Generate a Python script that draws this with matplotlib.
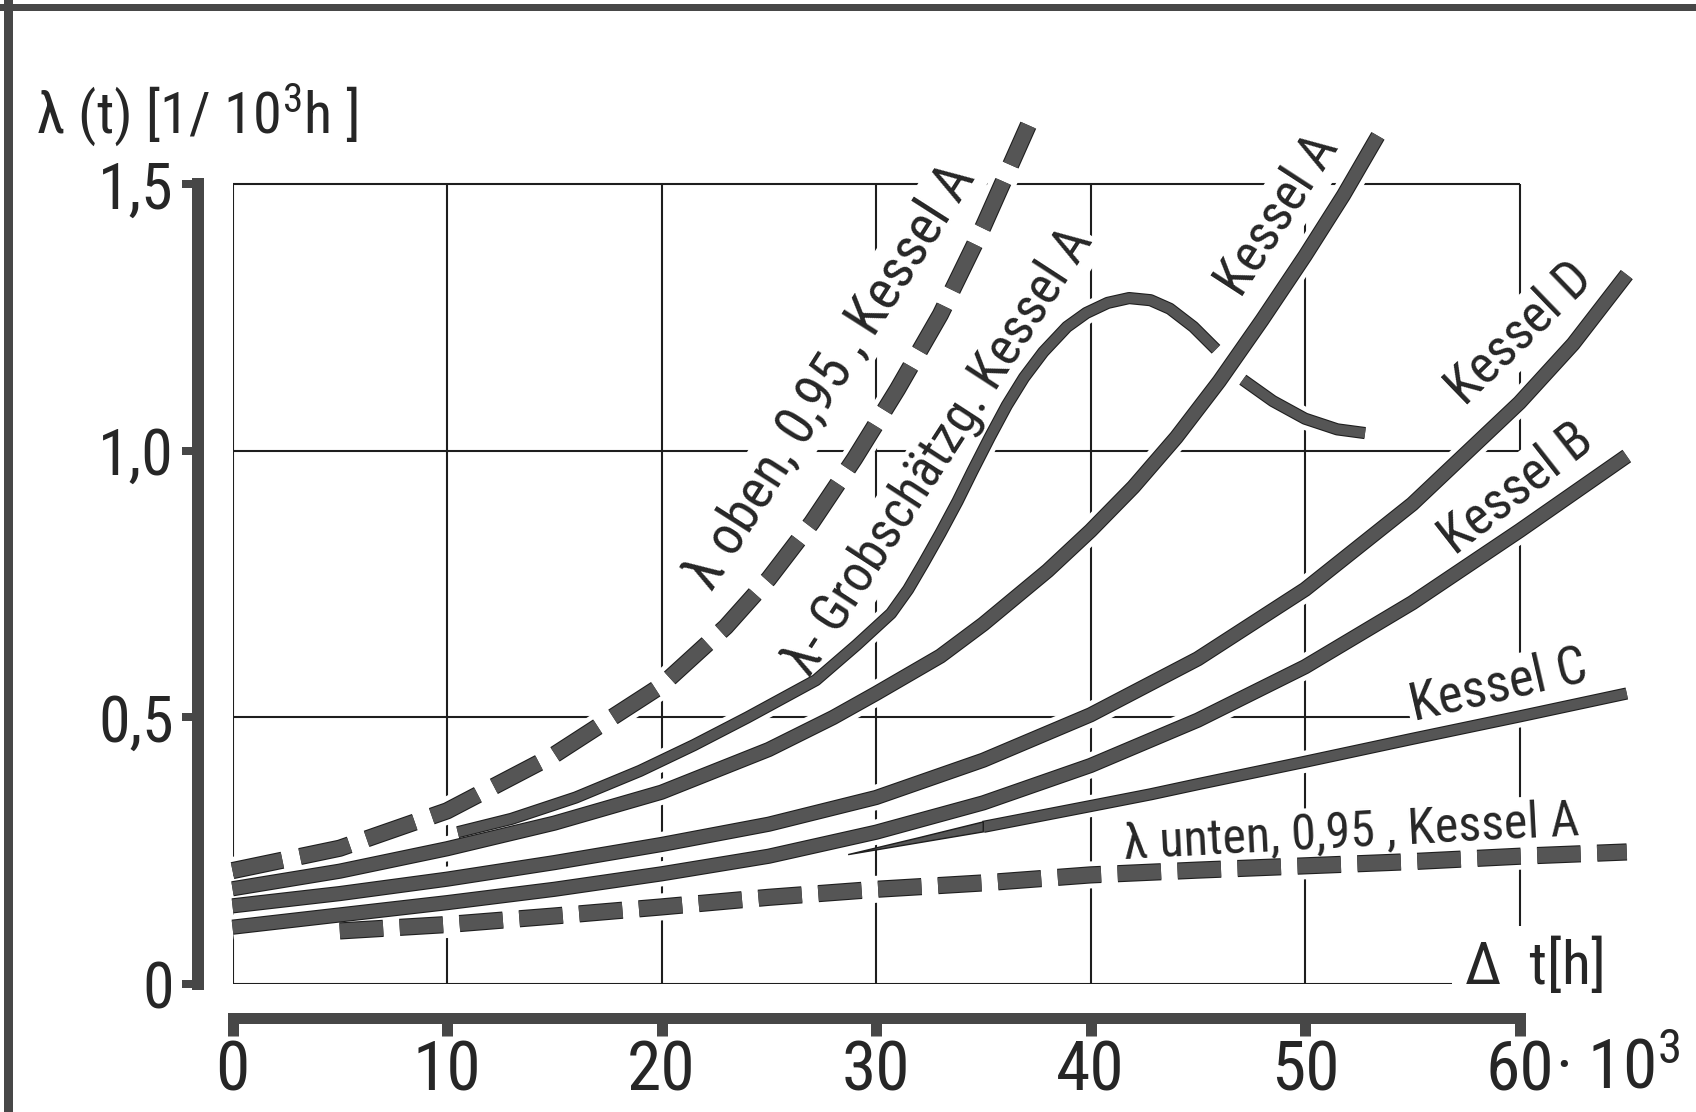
import matplotlib
matplotlib.use("Agg")
import matplotlib.pyplot as plt
import matplotlib.patheffects as pe
from matplotlib import font_manager
from matplotlib.lines import Line2D
from matplotlib.transforms import blended_transform_factory

# lambda(t) [1/10^3 h] over delta t [10^3 h]
oben_x = [0, 5, 10, 15, 20, 23, 25, 27, 29, 31, 33, 35, 37.1]
oben_y = [0.213, 0.255, 0.325, 0.43, 0.56, 0.67, 0.76, 0.865, 0.985, 1.115, 1.255, 1.42, 1.61]

grob_x1 = [10.5, 13, 16, 19, 21.5, 24, 27.2, 29.1, 30.7, 31.5, 32.2, 33, 33.8, 34.5,
           35.3, 36.1, 36.9, 37.8, 38.9, 39.8, 40.8, 41.8, 42.8, 43.7, 44.8, 45.85]
grob_y1 = [0.285, 0.31, 0.35, 0.40, 0.448, 0.50, 0.57, 0.636, 0.695, 0.74, 0.788,
           0.845, 0.905, 0.962, 1.025, 1.085, 1.137, 1.185, 1.232, 1.258, 1.277,
           1.286, 1.282, 1.266, 1.232, 1.19]
grob_x2 = [47.1, 48.5, 50, 51.5, 52.8]
grob_y2 = [1.133, 1.093, 1.06, 1.04, 1.033]

kessel_a_x = [0, 5, 10, 15, 20, 25, 28, 30, 33, 35, 38, 40, 42, 44, 46, 48, 50, 51.8, 53.4]
kessel_a_y = [0.179, 0.212, 0.254, 0.302, 0.36, 0.44, 0.50, 0.545, 0.615, 0.675,
              0.775, 0.85, 0.932, 1.025, 1.13, 1.245, 1.365, 1.479, 1.59]

kessel_d_x = [0, 5, 10, 15, 20, 25, 30, 35, 40, 45, 50, 55, 60, 62.5, 65]
kessel_d_y = [0.147, 0.17, 0.197, 0.228, 0.262, 0.30, 0.35, 0.42, 0.505, 0.61,
              0.74, 0.9, 1.09, 1.2, 1.33]

kessel_b_x = [0, 5, 10, 15, 20, 25, 30, 35, 40, 45, 50, 55, 60, 65]
kessel_b_y = [0.107, 0.13, 0.153, 0.178, 0.207, 0.24, 0.285, 0.34, 0.41, 0.495,
              0.595, 0.715, 0.85, 0.99]

kessel_c_x = [28.7, 32, 35, 40, 42.8, 45, 50, 55, 60, 65]
kessel_c_y = [0.243, 0.27, 0.295, 0.334, 0.356, 0.375, 0.417, 0.46, 0.502, 0.545]

unten_x = [5, 10, 15, 20, 25, 30, 35, 40, 45, 50, 55, 60, 65]
unten_y = [0.10, 0.112, 0.128, 0.145, 0.163, 0.178, 0.19, 0.205, 0.214, 0.222,
           0.23, 0.24, 0.248]

x_ticks = [0, 10, 20, 30, 40, 50, 60]
x_labels = ["0", "10", "20", "30", "40", "50", "60"]
y_ticks = [0, 0.5, 1.0, 1.5]
y_labels = ["0", "0,5", "1,0", "1,5"]

# pick a narrow face if there is one
names = {f.name for f in font_manager.fontManager.ttflist}
FONT = "DejaVu Sans"
for cand in ["Liberation Sans Narrow", "Roboto Condensed", "Open Sans Condensed"]:
    if cand in names:
        FONT = cand
        break
plt.rcParams["font.family"] = [FONT, "DejaVu Sans"]
plt.rcParams["mathtext.default"] = "regular"

PX = 0.72          # points per pixel at dpi 100
INK = "#1e1e1e"
FILL = "#555555"
AXC = "#474747"
TXT = "#262626"

fig = plt.figure(figsize=(16.96, 11.12), dpi=100)
ax = fig.add_axes([0.13709, 0.11484, 0.83474, 0.79178])
ax.set_xlim(0, 66)
ax.set_ylim(0, 1.65)

# thin grid
ax.vlines(x_ticks, 0, 1.5, color=INK, lw=1.5, zorder=1)
ax.hlines(y_ticks, 0, 60, color=INK, lw=1.5, zorder=1)


def curve(x, y, lw, dashes=None):
    ax.plot(x, y, color="white", lw=lw + 12 * PX, solid_capstyle="butt",
            solid_joinstyle="round", zorder=2, clip_on=False)
    ln, = ax.plot(x, y, color=FILL, lw=lw, solid_capstyle="butt",
                  dash_capstyle="butt", solid_joinstyle="round", zorder=4,
                  clip_on=False)
    if dashes:
        ln.set_dashes(dashes)
    ln.set_path_effects([pe.Stroke(linewidth=lw + 2.2 * PX, foreground=INK),
                         pe.Normal()])
    return ln


thick = 13 * PX
thin = 10 * PX
dash_lw = 15 * PX

curve(oben_x, oben_y, dash_lw, dashes=(3.4, 1.2))
curve(unten_x, unten_y, dash_lw, dashes=(2.9, 1.1))
curve(kessel_b_x, kessel_b_y, thick)
curve(kessel_d_x, kessel_d_y, thick)
curve(kessel_a_x, kessel_a_y, thick)
curve(grob_x1, grob_y1, thin)
curve(grob_x2, grob_y2, thin)

# Kessel C leaves Kessel B as a thin wedge, full width from the third point on
curve(kessel_c_x[2:], kessel_c_y[2:], thin)
half = 5 / 533.6
grow = [0.0, 0.5, 1.0]
wx = kessel_c_x[:3] + kessel_c_x[:3][::-1]
wy = ([v + g * half for v, g in zip(kessel_c_y[:3], grow)]
      + [v - g * half for v, g in zip(kessel_c_y[:3], grow)][::-1])
ax.fill(wx, wy, facecolor=FILL, edgecolor=INK, lw=1.0, zorder=4)

# labels along the curves
box = dict(facecolor="white", edgecolor="none", pad=2)
lab = dict(color=TXT, rotation_mode="anchor", zorder=3, bbox=box)
ax.text(22.3, 0.735, "λ oben, 0,95 , Kessel A", rotation=57.5, fontsize=40,
        ha="left", va="baseline", **lab)
ax.text(26.9, 0.575, "λ- Grobschätzg. Kessel A", rotation=57, fontsize=38,
        ha="left", va="baseline", **lab)
ax.text(47.0, 1.285, "Kessel A", rotation=57, fontsize=38,
        ha="left", va="baseline", **lab)
ax.text(60.0, 1.22, "Kessel D", rotation=44, fontsize=38,
        ha="center", va="center", **lab)
ax.text(59.84, 0.928, "Kessel B", rotation=38, fontsize=38,
        ha="center", va="center", **lab)
ax.text(59.0, 0.558, "Kessel C", rotation=13, fontsize=38,
        ha="center", va="center", **lab)
ax.text(41.6, 0.235, "λ unten, 0,95 , Kessel A", rotation=3, fontsize=36,
        ha="left", va="baseline", **lab)
ax.text(57.45, 0.0, "Δ  t[h]", fontsize=43, ha="left", va="baseline",
        color=TXT, zorder=3,
        bbox=dict(facecolor="white", edgecolor="none", pad=9))

# heavy offset axes
for side in ["top", "right"]:
    ax.spines[side].set_visible(False)
ax.spines["left"].set_position(("outward", 34.5 * PX))
ax.spines["left"].set_bounds(0, 1.5)
ax.spines["left"].set_linewidth(12 * PX)
ax.spines["bottom"].set_position(("outward", 33.5 * PX))
ax.spines["bottom"].set_bounds(0, 60)
ax.spines["bottom"].set_linewidth(11 * PX)
for side in ["left", "bottom"]:
    ax.spines[side].set_color(AXC)
    ax.spines[side].set_capstyle("projecting")

ax.set_xticks(x_ticks, x_labels)
ax.set_yticks(y_ticks, y_labels)
ax.tick_params(axis="x", direction="out", length=17.5 * PX, width=11 * PX,
               color=AXC, labelcolor=TXT, labelsize=50, pad=3 * PX)
ax.tick_params(axis="y", direction="out", length=16 * PX, width=8 * PX,
               color=AXC, labelcolor=TXT, labelsize=46, pad=8 * PX)
ax.patch.set_visible(False)

# multiplier after the last x label
ax.text(61.65, 0.021, "· 10$^3$", fontsize=50, color=TXT, ha="left",
        va="baseline", transform=blended_transform_factory(ax.transData, fig.transFigure))
fig.text(36 / 1696, 1 - 133 / 1112, "λ (t) [1/ 10$^3$h ]", fontsize=42,
         color=TXT, ha="left", va="baseline")

# frame of the scanned page (left and top edge only)
fig.add_artist(Line2D([7.5 / 1696, 7.5 / 1696], [0, 1 - 4 / 1112],
                      transform=fig.transFigure, color=AXC, lw=9 * PX))
fig.add_artist(Line2D([3 / 1696, 1], [1 - 7 / 1112, 1 - 7 / 1112],
                      transform=fig.transFigure, color=AXC, lw=7 * PX))

fig.savefig("out.png", dpi=100)
